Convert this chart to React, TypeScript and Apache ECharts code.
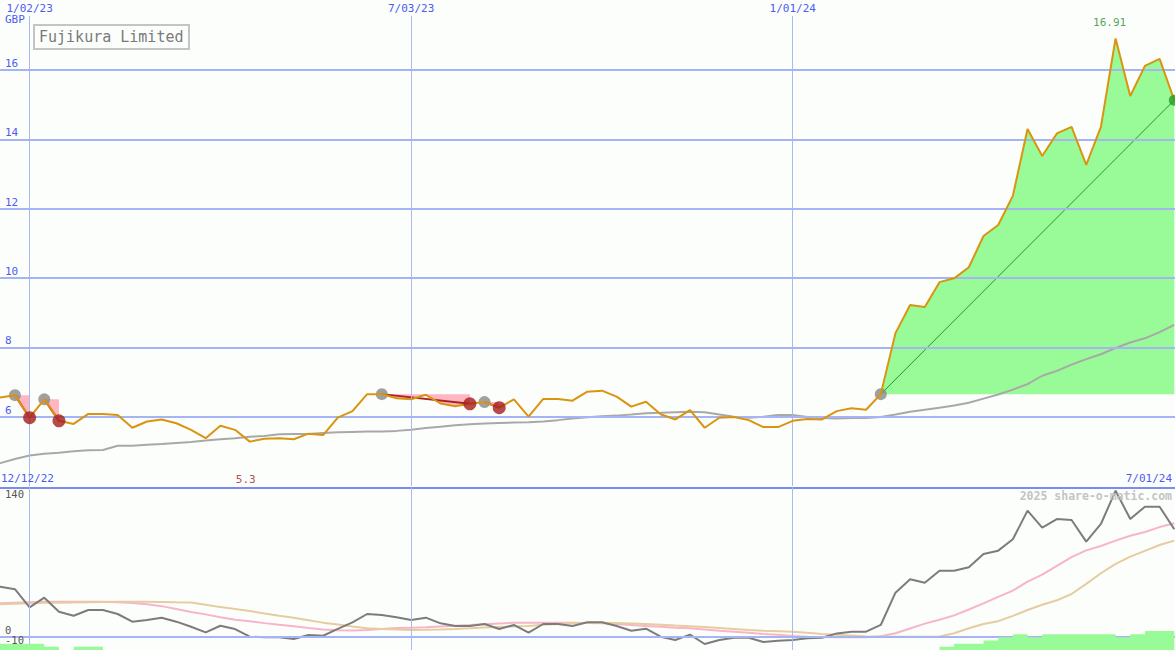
import React, { useEffect, useRef } from "react";
import * as echarts from "echarts";

const DAY = 86400000;
const START = Date.UTC(2022, 11, 12);
const TITLE = "Fujikura Limited";
const CURRENCY = "GBP";
const WATERMARK = "2025 share-o-matic.com";

const price = [
  6.52, 6.55, 6.62, 5.97, 6.5, 5.88, 5.79, 6.08, 6.08, 6.05,
  5.68, 5.86, 5.92, 5.81, 5.62, 5.38, 5.74, 5.62, 5.28, 5.36,
  5.38, 5.35, 5.51, 5.47, 5.97, 6.16, 6.65, 6.65, 6.53, 6.5,
  6.63, 6.38, 6.3, 6.37, 6.42, 6.26, 6.5, 6.0, 6.51, 6.51,
  6.46, 6.72, 6.75, 6.58, 6.29, 6.43, 6.07, 5.92, 6.19, 5.68,
  5.97, 5.99, 5.9, 5.7, 5.7, 5.88, 5.93, 5.92, 6.16, 6.24,
  6.2, 6.65, 8.41, 9.22, 9.16, 9.88, 9.99, 10.31, 11.21, 11.53,
  12.37, 14.3, 13.52, 14.17, 14.36, 13.26, 14.36, 16.91, 15.25, 16.12,
  16.32, 15.13,
];

const movingAvg = [
  4.55, 4.66, 4.78, 4.88, 4.93, 4.96, 5.0, 5.03, 5.04, 5.16,
  5.16, 5.19, 5.21, 5.24, 5.27, 5.31, 5.35, 5.38, 5.42, 5.44,
  5.49, 5.5, 5.5, 5.53, 5.55, 5.56, 5.57, 5.57, 5.59, 5.62,
  5.67, 5.71, 5.75, 5.78, 5.8, 5.82, 5.83, 5.84, 5.86, 5.9,
  5.95, 5.98, 6.01, 6.03, 6.06, 6.1, 6.11, 6.13, 6.14, 6.13,
  6.06, 6.0, 5.97, 6.0, 6.05, 6.05, 5.99, 5.96, 5.95, 5.96,
  5.96, 5.99, 6.06, 6.14, 6.2, 6.26, 6.32, 6.4, 6.52, 6.64,
  6.78, 6.94, 7.18, 7.32, 7.5, 7.66, 7.8, 7.98, 8.14, 8.26,
  8.44, 8.65,
];

const oscillator = [
  52, 51.5, 49, 30.3, 40.2, 25.8, 21.6, 27.5, 27.5, 23.4,
  15.5, 17.2, 19.6, 15.5, 10.3, 4.5, 11.3, 7.9, 0, -0.6,
  -0.6, -2.4, 1.8, 1.0, 8, 14.8, 23.4, 22.4, 20, 17.2,
  19.6, 13.8, 11, 11, 13.1, 7.9, 12.1, 4.1, 13.1, 13.1,
  11, 14.8, 14.8, 11, 6.2, 8.2, 0, -3.4, 2.1, -7.5,
  -3.4, -1, -1, -5.5, -4.1, -3.4, -1.7, -1, 3.4, 5.2,
  5.2, 12.1, 45.4, 59.2, 55.7, 68, 68, 71.5, 85.3, 88.7,
  100.4, 130, 112.4, 121.3, 120.3, 98, 116.2, 150.5, 121.3, 134,
  134, 110.7,
];

const oscFast = [
  34, 34.4, 35, 35.5, 36, 36, 36, 36, 36, 35.5,
  34.8, 33.5, 31.5, 28.5, 25.5, 23, 20, 17.5, 16, 14,
  12.3, 10.7, 9, 7.5, 6.6, 6.3, 7, 8, 8.9, 9.3,
  9.7, 10.5, 11.3, 12, 12.9, 13.7, 14.3, 14.4, 14.4, 14.4,
  14.4, 14.1, 13.8, 13, 12, 11, 10.2, 9.3, 8.6, 7.4,
  6.2, 5.2, 4, 2.8, 1.9, 0.8, 0, -0.3, -0.6, -0.6,
  -0.5, 0.5, 3.5, 8.5, 13.5, 17.5, 22, 28, 34.4, 41,
  47.5, 56.7, 64, 73, 82, 89, 93.5, 99, 104, 108,
  113, 117,
];

const oscSlow = [
  33, 33.5, 34, 34.5, 35, 35, 35.3, 35.5, 35.8, 36,
  36, 36, 35.8, 35.5, 35.3, 33, 30.5, 28.5, 26.5, 24,
  21.5, 19.5, 17, 14.5, 12.5, 10.5, 8.8, 8, 7.4, 6.9,
  7.1, 7.4, 7.9, 8.7, 9.6, 10.1, 10.6, 11.1, 12.2, 13.2,
  13.9, 14.2, 14.4, 14.1, 13.6, 13.1, 12.3, 11.5, 10.8, 9.9,
  9, 8, 7, 6.2, 5.7, 5.2, 4, 2.9, 2, 1.2,
  0.3, 0, 0, 0, 0, 0.3, 3.5, 8.7, 13.1, 16,
  21.5, 27.5, 33, 37.5, 44, 54.5, 65.4, 75, 82.5, 88.5,
  94.5, 99,
];

const signal = [
  2, 2, 2, 2, 1, 0, 1, 1, 0, 0,
  0, 0, 0, 0, 0, 0, 0, 0, 0, 0,
  0, 0, 0, 0, 0, 0, 0, 0, 0, 0,
  0, 0, 0, 0, 0, 0, 0, 0, 0, 0,
  0, 0, 0, 0, 0, 0, 0, 0, 0, 0,
  0, 0, 0, 0, 0, 0, 0, 0, 0, 0,
  0, 0, 0, 0, 0, 1, 2, 2, 3, 4,
  5, 4, 5, 5, 5, 5, 5, 4, 5, 6,
  6, 6,
];

const dates = price.map((_, i) => START + i * 7 * DAY);
const tradeEntries = [2, 4, 27, 34, 61];
const tradeExits: (number | null)[] = [3, 5, 33, 35, null];
const priceTicks = [6, 8, 10, 12, 14, 16];
const dateMarks = [Date.UTC(2023, 0, 2), Date.UTC(2023, 6, 3), Date.UTC(2024, 0, 1)];
const oscLabels = [140, 0, -10];

const FONT = '"DejaVu Sans Mono", monospace';
const BLUE_TXT = "#4c5cf0";
const GRID_LINE = "#a4b4f4";
const V_LINE = "#aab8f6";
const BG = "#fcfefc";

const X_MIN = Date.UTC(2023, 0, 2) - 14.12 * DAY;
const X_MAX = Date.UTC(2023, 0, 2) + 546.34 * DAY;
const MIN_LABEL_Y = 4.2;

const fmtDate = (t: number) => {
  const d = new Date(t);
  return `${d.getUTCMonth() + 1}/${String(d.getUTCDate()).padStart(2, "0")}/${String(d.getUTCFullYear()).slice(2)}`;
};

function buildOption() {
  const pts = (arr: number[]) => arr.map((v, i) => [dates[i], v]);
  const series: any[] = [];

  // top panel grid lines and date labels
  series.push({
    type: "line", xAxisIndex: 0, yAxisIndex: 0, data: pts(price), symbol: "none",
    lineStyle: { opacity: 0, width: 0 }, z: 1, silent: true,
    markLine: {
      symbol: ["none", "none"], silent: true, animation: false,
      data: [
        ...dateMarks.map((t) => ({
          xAxis: t,
          lineStyle: { color: V_LINE, width: 1, type: "solid" },
          label: { show: true, position: "end", formatter: fmtDate(t), color: BLUE_TXT, fontFamily: FONT, fontSize: 11, distance: 2 },
        })),
        ...priceTicks.map((v) => ({
          yAxis: v,
          lineStyle: { color: GRID_LINE, width: 2, type: "solid" },
          label: { show: true, position: "insideStartTop", formatter: String(v), color: BLUE_TXT, fontFamily: FONT, fontSize: 11, distance: [5, 1] },
        })),
      ],
    },
  });

  // trades
  tradeEntries.forEach((en, t) => {
    const ex = tradeExits[t];
    if (ex != null) {
      series.push({
        type: "line", xAxisIndex: 0, yAxisIndex: 0, symbol: "none", silent: true, z: 2,
        data: dates.slice(en, ex + 1).map((d, j) => [d, price[en + j]]),
        lineStyle: { width: 0, opacity: 0 },
        areaStyle: { color: "#ffb6c1", opacity: 1, origin: price[en] },
      });
      series.push({
        type: "line", xAxisIndex: 0, yAxisIndex: 0, symbol: "none", silent: true, z: 3,
        data: [[dates[en], price[en]], [dates[ex], price[ex]]],
        lineStyle: { color: "#aa2222", width: 2 },
      });
    } else {
      const last = price.length - 1;
      series.push({
        type: "line", xAxisIndex: 0, yAxisIndex: 0, symbol: "none", silent: true, z: 2,
        data: dates.slice(en).map((d, j) => [d, price[en + j]]),
        lineStyle: { width: 0, opacity: 0 },
        areaStyle: { color: "#98fb98", opacity: 1, origin: price[en] },
      });
      series.push({
        type: "line", xAxisIndex: 0, yAxisIndex: 0, symbol: "none", silent: true, z: 4,
        data: [[dates[en], price[en]], [dates[last], price[last]]],
        lineStyle: { color: "#229a22", width: 1 },
      });
    }
  });

  series.push({
    type: "line", xAxisIndex: 0, yAxisIndex: 0, symbol: "none", silent: true, z: 3,
    data: pts(movingAvg), lineStyle: { color: "#a8a8a8", width: 2 },
  });

  series.push({
    type: "scatter", xAxisIndex: 0, yAxisIndex: 0, silent: true, z: 4,
    data: tradeEntries.map((i) => [dates[i], price[i]]),
    symbolSize: 12, itemStyle: { color: "#888888" },
  });

  series.push({
    type: "line", xAxisIndex: 0, yAxisIndex: 0, symbol: "none", silent: true, z: 5,
    data: pts(price), lineStyle: { color: "#da9410", width: 2 },
  });

  series.push({
    type: "scatter", xAxisIndex: 0, yAxisIndex: 0, silent: true, z: 6,
    data: tradeExits.filter((e) => e != null).map((i) => [dates[i as number], price[i as number]]),
    symbolSize: 13, itemStyle: { color: "#a51c1c" },
  });

  const lastIdx = price.length - 1;
  series.push({
    type: "scatter", xAxisIndex: 0, yAxisIndex: 0, silent: true, z: 6,
    data: [[dates[lastIdx], price[lastIdx]]],
    symbolSize: 11, itemStyle: { color: "#2a9a2a" },
  });

  let maxIdx = 0, minIdx = 0;
  price.forEach((v, i) => { if (v > price[maxIdx]) maxIdx = i; if (v < price[minIdx]) minIdx = i; });
  series.push({
    type: "scatter", xAxisIndex: 0, yAxisIndex: 0, silent: true, z: 7, symbolSize: 0,
    data: [[dates[maxIdx], price[maxIdx]]],
    label: { show: true, position: "top", distance: 10, offset: [-6, 0], formatter: price[maxIdx].toFixed(2), color: "#2a8a2a", fontFamily: FONT, fontSize: 11 },
  });
  series.push({
    type: "scatter", xAxisIndex: 0, yAxisIndex: 0, silent: true, z: 7, symbolSize: 0,
    data: [[dates[minIdx], MIN_LABEL_Y]],
    label: { show: true, position: "inside", offset: [-4, 0], formatter: price[minIdx].toFixed(1), color: "#a02020", fontFamily: FONT, fontSize: 11 },
  });

  // bottom panel
  series.push({
    type: "line", xAxisIndex: 1, yAxisIndex: 1, data: pts(oscSlow), symbol: "none",
    lineStyle: { opacity: 0, width: 0 }, z: 1, silent: true,
    markLine: {
      symbol: ["none", "none"], silent: true, animation: false,
      data: [
        ...dateMarks.map((t) => ({ xAxis: t, lineStyle: { color: V_LINE, width: 1, type: "solid" }, label: { show: false } })),
        ...oscLabels.map((v) => ({
          yAxis: v,
          lineStyle: { color: v === 0 ? GRID_LINE : "rgba(0,0,0,0)", width: v === 0 ? 2 : 1, type: "solid" },
          label: { show: true, position: "insideStartTop", formatter: String(v), color: "#555555", fontFamily: FONT, fontSize: 10.5, distance: [5, 1] },
        })),
      ],
    },
  });
  series.push({ type: "line", xAxisIndex: 1, yAxisIndex: 1, symbol: "none", silent: true, z: 2, data: pts(oscFast), lineStyle: { color: "#f8b4c8", width: 2 } });
  series.push({ type: "line", xAxisIndex: 1, yAxisIndex: 1, symbol: "none", silent: true, z: 2, data: pts(oscSlow), lineStyle: { color: "#e6cc9e", width: 2 } });
  series.push({ type: "line", xAxisIndex: 1, yAxisIndex: 1, symbol: "none", silent: true, z: 3, data: pts(oscillator), lineStyle: { color: "#7c7c7c", width: 2 } });

  series.push({
    type: "line", xAxisIndex: 2, yAxisIndex: 2, step: "end", symbol: "none", silent: true, z: 5,
    data: pts(signal), lineStyle: { width: 0, opacity: 0 },
    areaStyle: { color: "#98fb98", opacity: 1 },
  });

  return {
    animation: false,
    backgroundColor: BG,
    grid: [
      { left: 0, right: 0, top: 16, height: 470 },
      { left: 0, right: 0, top: 487.5, height: 162.5 },
      { left: 0, right: 0, top: 600, height: 50 },
    ],
    xAxis: [
      { type: "time", gridIndex: 0, min: X_MIN, max: X_MAX, show: false },
      {
        type: "time", gridIndex: 1, min: X_MIN, max: X_MAX, position: "top",
        axisLine: { show: true, onZero: false, lineStyle: { color: "#7a8cf0", width: 2 } },
        axisTick: { show: false }, axisLabel: { show: false }, splitLine: { show: false },
      },
      { type: "time", gridIndex: 2, min: X_MIN, max: X_MAX, show: false },
    ],
    yAxis: [
      { type: "value", gridIndex: 0, min: 4, max: 17.557, show: false },
      { type: "value", gridIndex: 1, min: -13.71, max: 153.8, show: false },
      { type: "value", gridIndex: 2, min: 0, max: 15.77, show: false },
    ],
    graphic: [
      {
        type: "group", left: 33, top: 24, z: 10,
        children: [
          { type: "rect", shape: { x: 0, y: 0, width: 155, height: 24 }, style: { fill: BG, stroke: "#c4c4c4", lineWidth: 2 } },
          { type: "text", x: 5, y: 12, style: { text: TITLE, fill: "#7a7a7a", fontSize: 15, fontFamily: FONT, verticalAlign: "middle" } },
        ],
      },
      { type: "text", left: 5, top: 14, z: 10, style: { text: CURRENCY, fill: BLUE_TXT, fontSize: 11, fontFamily: FONT } },
      { type: "text", left: 1, top: 473, z: 10, style: { text: fmtDate(dates[0]), fill: BLUE_TXT, fontSize: 11, fontFamily: FONT } },
      { type: "text", right: 3, top: 473, z: 10, style: { text: fmtDate(dates[dates.length - 1]), fill: BLUE_TXT, fontSize: 11, fontFamily: FONT } },
      { type: "text", right: 3, top: 490, z: 10, style: { text: WATERMARK, fill: "#c4c4c4", fontSize: 11.5, fontWeight: "bold", fontFamily: FONT } },
    ],
    series,
  };
}

export default function App() {
  const ref = useRef<HTMLDivElement>(null);
  useEffect(() => {
    document.body.style.margin = "0";
    if (!ref.current) return;
    const chart = echarts.init(ref.current, undefined, { renderer: "svg" });
    chart.setOption(buildOption() as any);
    return () => chart.dispose();
  }, []);
  return <div ref={ref} style={{ width: 1175, height: 650 }} />;
}
